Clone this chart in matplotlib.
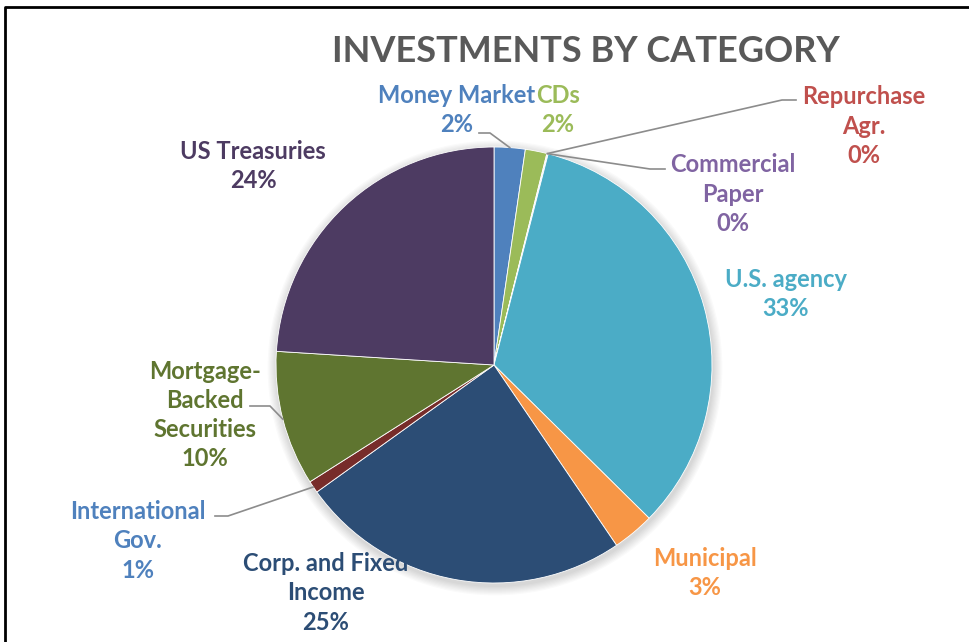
import matplotlib.pyplot as plt
import numpy as np

plt.rcParams['font.family'] = ['Lato', 'DejaVu Sans']

categories = ['Money Market', 'CDs', 'Repurchase\nAgr.', 'Commercial\nPaper', 'U.S. agency',
              'Municipal', 'Corp. and Fixed\nIncome', 'International\nGov.',
              'Mortgage-\nBacked\nSecurities', 'US Treasuries']
values = [2.3, 1.6, 0.05, 0.05, 33.4, 3.1, 24.6, 0.9, 10.0, 24.0]
pct_labels = ['2%', '2%', '0%', '0%', '33%', '3%', '25%', '1%', '10%', '24%']
slice_colors = ['#4F81BD', '#9BBB59', '#C0504D', '#8064A2', '#4BACC6',
                '#F79646', '#2C4D75', '#772C2A', '#5F7530', '#4D3B62']
label_colors = ['#4F81BD', '#9BBB59', '#C0504D', '#8064A2', '#4BACC6',
                '#F79646', '#2C4D75', '#4F81BD', '#5F7530', '#4D3B62']

W, H = 969, 642
fig = plt.figure(figsize=(W / 100, H / 100), dpi=100)
ax = fig.add_axes([0, 0, 1, 1])

# pie geometry in pixel coords (y up)
cx, cy, r = 494, H - 365, 218

# soft shadow
for k in range(8):
    ax.add_patch(plt.Circle((cx + 1, cy - 3), r + 1 + k * 1.2, color='#000000',
                            alpha=0.018, lw=0, zorder=1))

wedges, _ = ax.pie(values, colors=slice_colors, startangle=90, counterclock=False,
                   center=(cx, cy), radius=r, frame=True,
                   wedgeprops=dict(linewidth=0.6, edgecolor='white'))
for w in wedges:
    w.set_zorder(2)
ax.set_xlim(0, W)
ax.set_ylim(0, H)
ax.set_aspect('equal')
ax.axis('off')

# label positions (pixel coords from top) and leader elbows
label_pos = [(457, 110), (558, 110), (864, 126), (733, 194), (786, 294),
             (705, 573), (326, 593), (138, 541), (205, 415), (253, 166)]
leaders = {0: (479, 490, 133), 2: (796, 782, 100), 3: (665, 650, 169),
           7: (215, 228, 516), 8: (250, 270, 406)}

for i, (x, y) in enumerate(label_pos):
    ax.text(x, H - y, categories[i] + '\n' + pct_labels[i], ha='center', va='center',
            fontsize=17, fontweight='bold', color=label_colors[i], linespacing=1.33,
            zorder=5)

for i, (x0, x1, y) in leaders.items():
    w = wedges[i]
    ang = np.deg2rad((w.theta1 + w.theta2) / 2)
    px, py = cx + r * np.cos(ang), cy + r * np.sin(ang)
    ax.plot([x0, x1, px], [H - y, H - y, py], color='#8C8C8C', lw=1.2, zorder=3)

ax.text(586, H - 52, 'INVESTMENTS BY CATEGORY', ha='center', va='center',
        fontsize=26, fontweight='bold', color='#595959')

# frame
ax.plot([5, 5, W], [0, H - 7, H - 7], color='black', lw=2, zorder=6)

fig.savefig('out.png', dpi=100)
